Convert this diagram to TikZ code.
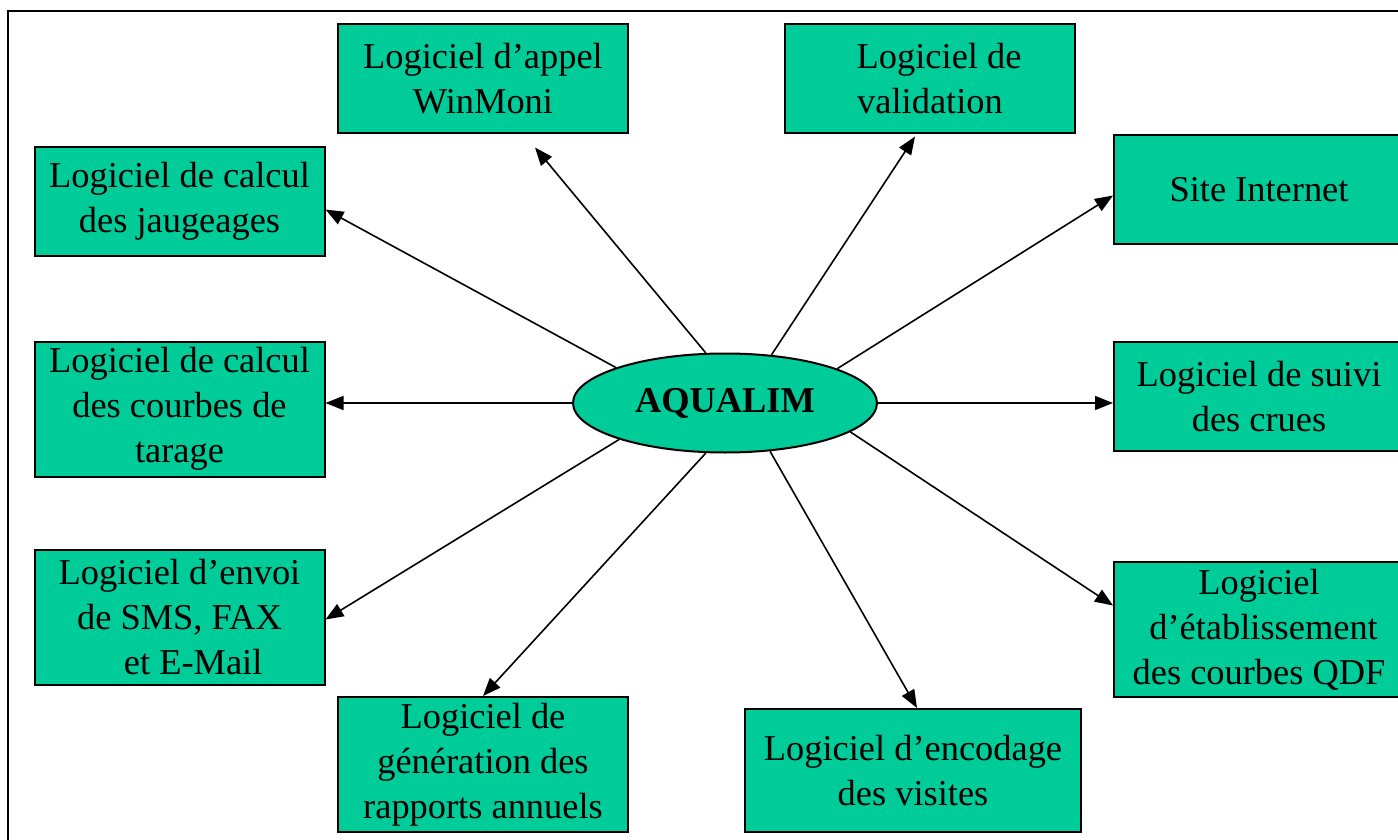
\documentclass[tikz,border=0pt]{standalone}
\usepackage{fontspec}
\setmainfont{Liberation Serif}
\usepackage{xcolor}
\usetikzlibrary{arrows.meta, shapes.geometric}
\definecolor{aquaGreen}{RGB}{0, 204, 153}
\tikzset{
  soft/.style={draw=black, line width=1pt, fill=aquaGreen, align=center,
    inner sep=0pt, font=\fontsize{18.2}{22.5}\selectfont},
  softbox/.style={soft, rectangle, minimum width=145pt, minimum height=54.5pt},
  tallbox/.style={softbox, minimum height=67.5pt},
  link/.style={line width=0.8pt, -{Triangle[length=9pt, width=7pt]}}
}

\begin{document}
\begin{tikzpicture}[x=0.5pt, y=-0.5pt]
  \useasboundingbox (0,0) rectangle (1398,840);
  \draw[line width=1pt] (8,11) rectangle (1430,870);

  % centre
  \node[soft, ellipse, minimum width=152pt, minimum height=49.5pt,
        font=\fontsize{18.2}{22.5}\selectfont\bfseries] (aq) at (725,403) {AQUALIM};

  % top
  \node[softbox] (winmoni) at (483,79) {Logiciel d'appel\\WinMoni};
  \node[softbox] (valid) at (930,79) {~~Logiciel de\\validation};

  % left column
  \node[softbox] (jaug) at (179.5,201.5) {Logiciel de calcul\\des jaugeages};
  \node[tallbox] (tarage) at (179.5,409) {Logiciel de calcul\\des courbes de\\tarage};
  \node[tallbox] (sms) at (179.5,617.5) {Logiciel d'envoi\\de SMS, FAX\\~~~et E-Mail};

  % right column
  \node[softbox] (site) at (1259,189.5) {Site Internet};
  \node[softbox] (suivi) at (1259,396.5) {Logiciel de suivi\\des crues};
  \node[tallbox] (qdf) at (1259,629.5) {Logiciel\\~d'établissement\\des courbes QDF};

  % bottom
  \node[tallbox] (gen) at (483,764.5) {Logiciel de\\génération des\\rapports annuels};
  \node[softbox, minimum width=168pt, minimum height=61.5pt] (encod) at (913,770.5)
    {Logiciel d'encodage\\des visites};

  \draw[link] (aq.111) -- ([xshift=26pt, yshift=-6.5pt]winmoni.south);
  \draw[link] (aq.46) -- ([xshift=-7.5pt, yshift=-1pt]valid.south);
  \draw[link] (aq.162) -- ([yshift=-4pt]jaug.east);
  \draw[link] (aq.17) -- ([yshift=-3pt]site.west);
  \draw[link] (aq.west) -- (aq.west -| tarage.east);
  \draw[link] (aq.east) -- (aq.east -| suivi.west);
  \draw[link] (aq.199) -- ([yshift=-1pt]sms.east);
  \draw[link] (aq.249) -- (gen.north);
  \draw[link] (aq.313) -- ([xshift=2pt]encod.north);
  \draw[link] (aq.347) -- ([yshift=12pt]qdf.west);
\end{tikzpicture}
\end{document}
